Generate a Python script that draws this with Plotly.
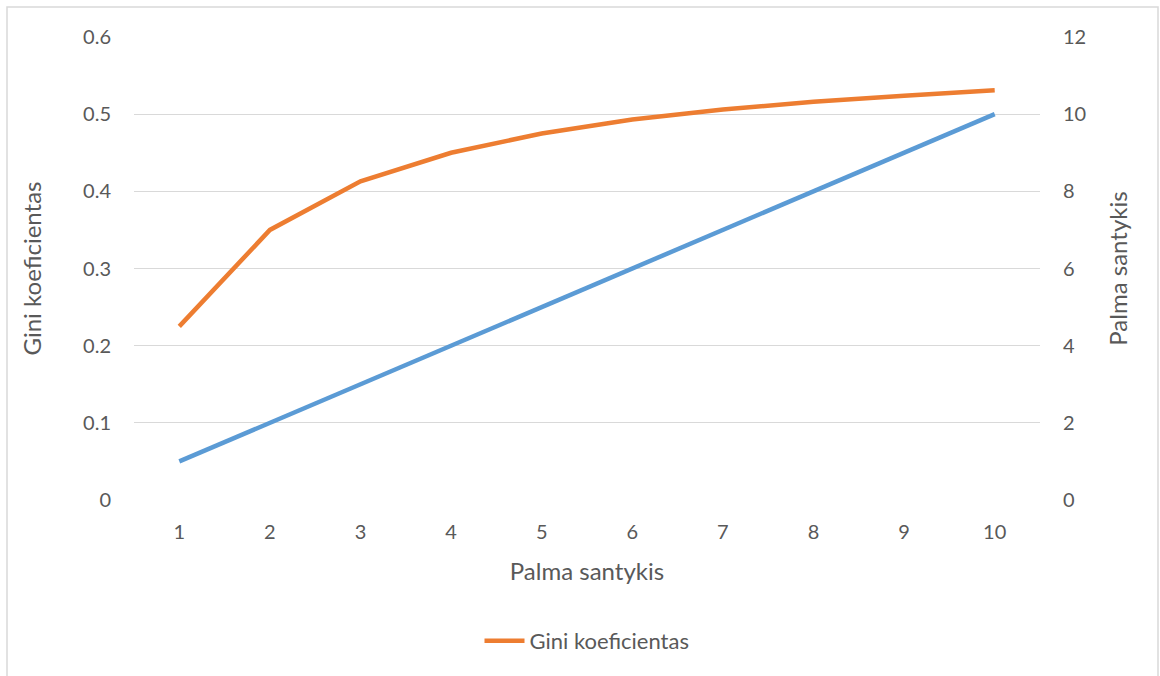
import plotly.graph_objects as go

# Data
x_vals = [1, 2, 3, 4, 5, 6, 7, 8, 9, 10]
palma = [1, 2, 3, 4, 5, 6, 7, 8, 9, 10]
gini = [0.225, 0.350, 0.413, 0.450, 0.475, 0.493, 0.506, 0.516, 0.524, 0.531]

ORANGE = "#ED7D31"
BLUE = "#5B9BD5"
TEXT = "#595959"
GRID = "#D9D9D9"
FONT = "Lato, 'Open Sans', sans-serif"

fig = go.Figure()

fig.add_trace(go.Scatter(
    x=x_vals, y=palma, mode="lines", name="Palma santykis",
    line=dict(color=BLUE, width=4.5), yaxis="y2", showlegend=False,
))
fig.add_trace(go.Scatter(
    x=x_vals, y=gini, mode="lines", name="Gini koeficientas",
    line=dict(color=ORANGE, width=4.5), yaxis="y",
))

# plot area: x 134..1040 px, y 37..500 px
L, R, T, B = 134, 1040, 37, 500
W, H = 1160, 676
pw, ph = R - L, B - T

def px_x(p):
    return (p - L) / pw

def px_y(p):
    return (B - p) / ph

fig.update_layout(
    width=W, height=H,
    margin=dict(l=L, r=W - R, t=T, b=H - B),
    paper_bgcolor="white", plot_bgcolor="white",
    font=dict(family=FONT, color=TEXT, size=20),
    xaxis=dict(
        range=[0.5, 10.5], tickvals=x_vals, showgrid=False, zeroline=False,
        showline=False, ticklabelstandoff=18,
        title=dict(text="Palma santykis", font=dict(size=24), standoff=21),
    ),
    yaxis=dict(
        range=[0, 0.6], dtick=0.1, showgrid=True, gridcolor=GRID, gridwidth=1,
        zeroline=False, showline=False, ticklabelstandoff=22,
        title=dict(text="Gini koeficientas", font=dict(size=24), standoff=34),
    ),
    yaxis2=dict(
        range=[0, 12], dtick=2, overlaying="y", side="right", showgrid=False,
        zeroline=False, showline=False, ticklabelstandoff=22,
        title=dict(text="Palma santykis", font=dict(size=24), standoff=24),
    ),
    legend=dict(
        orientation="h", x=px_x(587), xanchor="center", y=px_y(641), yanchor="middle",
        font=dict(size=22, color=TEXT), itemwidth=40,
    ),
    shapes=[dict(
        type="rect", xref="paper", yref="paper",
        x0=px_x(7), x1=px_x(1158), y0=px_y(690), y1=px_y(7),
        line=dict(color=GRID, width=1.5), layer="below",
    )],
)

fig.write_html("out.html")
